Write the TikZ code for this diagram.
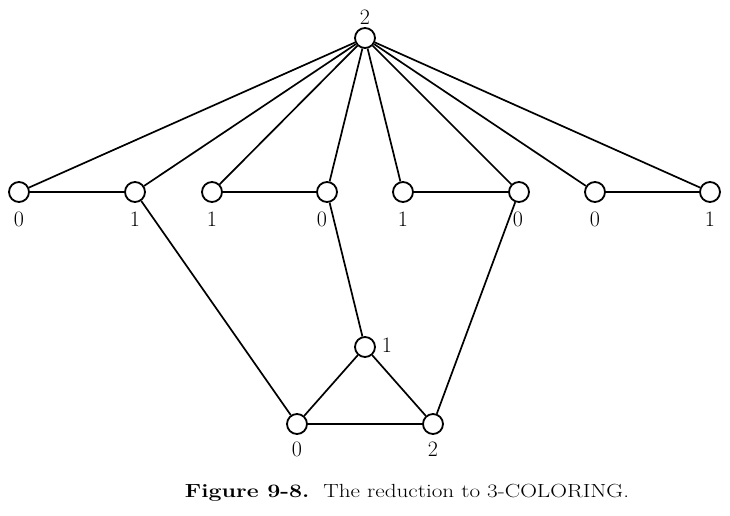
\documentclass[tikz,border=0pt]{standalone}
\begin{document}
\begin{tikzpicture}[x=1pt,y=-1pt,
  vtx/.style={circle,draw,line width=1.8pt,minimum size=20pt,inner sep=0pt,fill=white},
  lbl/.style={font=\fontsize{22}{24}\selectfont,inner sep=0pt},
  edge/.style={line width=1.7pt}]
\useasboundingbox (0,0) rectangle (730,515);
% vertices
\node[vtx] (t) at (365,38) {};
\node[vtx] (a1) at (19,192) {};
\node[vtx] (a2) at (135,192) {};
\node[vtx] (b1) at (212,192) {};
\node[vtx] (b2) at (327,192) {};
\node[vtx] (c1) at (403,192) {};
\node[vtx] (c2) at (519,192) {};
\node[vtx] (d1) at (595,192) {};
\node[vtx] (d2) at (710,192) {};
\node[vtx] (p) at (365,347) {};
\node[vtx] (q) at (297,424) {};
\node[vtx] (r) at (433,424) {};
% labels
\node[lbl] (lt) at (365,17) {2};
\node[lbl] (la1) at (19,219) {0};
\node[lbl] (la2) at (135,219) {1};
\node[lbl] (lb1) at (212,219) {1};
\node[lbl] (lb2) at (322,219) {0};
\node[lbl] (lc1) at (403,219) {1};
\node[lbl] (lc2) at (518,219) {0};
\node[lbl] (ld1) at (595,219) {0};
\node[lbl] (ld2) at (710,219) {1};
\node[lbl] (lp) at (387,345) {1};
\node[lbl] (lq) at (297,449) {0};
\node[lbl] (lr) at (433,449) {2};
% edges
\foreach \v in {a1,a2,b1,b2,c1,c2,d1,d2} \draw[edge] (t) -- (\v);
\draw[edge] (a1) -- (a2);
\draw[edge] (b1) -- (b2);
\draw[edge] (c1) -- (c2);
\draw[edge] (d1) -- (d2);
\draw[edge] (a2) -- (q);
\draw[edge] (b2) -- (p);
\draw[edge] (c2) -- (r);
\draw[edge] (p) -- (q);
\draw[edge] (p) -- (r);
\draw[edge] (q) -- (r);
% caption
\node[font=\fontsize{19}{21}\selectfont] (cap) at (407,493) {\scalebox{1.22}[1]{\textbf{Figure 9-8.}\ \ The reduction to 3-COLORING.}};
\end{tikzpicture}
\end{document}
